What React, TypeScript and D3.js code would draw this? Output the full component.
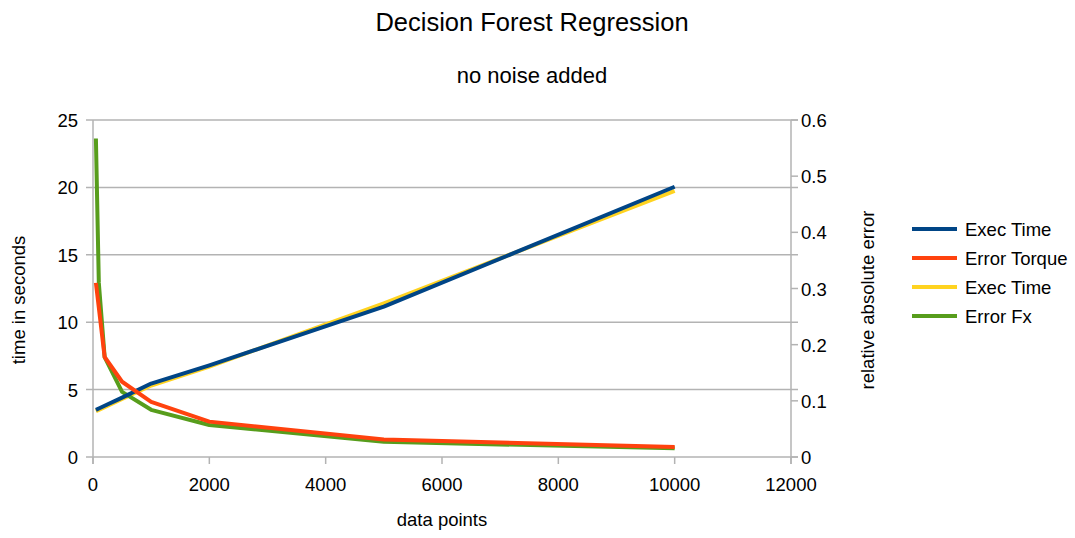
import React from "react";
import * as d3 from "d3";

const dataPoints = [50, 100, 200, 500, 1000, 2000, 5000, 10000];
const execTimeBlue = [3.5, 3.6, 3.8, 4.4, 5.45, 6.8, 11.15, 20.05];
const errorTorque = [0.31, 0.266, 0.178, 0.134, 0.098, 0.063, 0.031, 0.018];
const execTimeYellow = [3.4, 3.5, 3.7, 4.3, 5.3, 6.7, 11.4, 19.75];
const errorFx = [0.567, 0.31, 0.178, 0.116, 0.084, 0.057, 0.027, 0.0155];

const xTicks = [0, 2000, 4000, 6000, 8000, 10000, 12000];
const leftTicks = [0, 5, 10, 15, 20, 25];
const rightTicks = [0, 0.1, 0.2, 0.3, 0.4, 0.5, 0.6];

const series = [
  { name: "Exec Time", values: execTimeBlue, axis: "left", color: "#004586" },
  { name: "Error Torque", values: errorTorque, axis: "right", color: "#ff420e" },
  { name: "Exec Time", values: execTimeYellow, axis: "left", color: "#ffd320" },
  { name: "Error Fx", values: errorFx, axis: "right", color: "#579d1c" },
];
const drawOrder = [2, 3, 0, 1];

export default function App() {
  const W = 1075, H = 538;
  const left = 93, right = 791, top = 120, bottom = 457;
  const x = d3.scaleLinear().domain([0, 12000]).range([left, right]);
  const yL = d3.scaleLinear().domain([0, 25]).range([bottom, top]);
  const yR = d3.scaleLinear().domain([0, 0.6]).range([bottom, top]);
  const font = "'Liberation Sans', Arial, sans-serif";
  const grid = "#b3b3b3";
  const tickFs = 18.5;

  const lineFor = (s: any) =>
    d3
      .line<number>()
      .x((_, i) => x(dataPoints[i]))
      .y((v) => (s.axis === "left" ? yL(v) : yR(v)))(s.values) || "";

  return (
    <svg width={W} height={H} style={{ position: "absolute", left: 0, top: 0, background: "#fff" }} fontFamily={font}>
      <rect width={W} height={H} fill="#fff" />
      <text x={532} y={31} textAnchor="middle" fontSize={25.5} fill="#000">Decision Forest Regression</text>
      <text x={532} y={83} textAnchor="middle" fontSize={22} fill="#000">no noise added</text>

      {leftTicks.map((t) => (
        <line key={"g" + t} x1={left - 7} x2={right + 7} y1={yL(t)} y2={yL(t)} stroke={grid} strokeWidth={1.5} />
      ))}
      <line x1={left} x2={left} y1={top} y2={bottom + 7} stroke={grid} strokeWidth={1.5} />
      <line x1={right} x2={right} y1={top} y2={bottom + 7} stroke={grid} strokeWidth={1.5} />
      {xTicks.map((t) => (
        <line key={"xt" + t} x1={x(t)} x2={x(t)} y1={bottom} y2={bottom + 7} stroke={grid} strokeWidth={1.5} />
      ))}
      {rightTicks.map((t) => (
        <line key={"rt" + t} x1={right} x2={right + 7} y1={yR(t)} y2={yR(t)} stroke={grid} strokeWidth={1.5} />
      ))}

      {leftTicks.map((t) => (
        <text key={"lt" + t} x={78} y={yL(t) + 7} textAnchor="end" fontSize={tickFs} fill="#000">{t}</text>
      ))}
      {rightTicks.map((t) => (
        <text key={"rl" + t} x={801} y={yR(t) + 7} textAnchor="start" fontSize={tickFs} fill="#000">{t === 0 ? "0" : d3.format(".1f")(t)}</text>
      ))}
      {xTicks.map((t) => (
        <text key={"xl" + t} x={x(t)} y={491} textAnchor="middle" fontSize={tickFs} fill="#000">{t}</text>
      ))}

      <text x={442} y={526} textAnchor="middle" fontSize={18.5} fill="#000">data points</text>
      <text transform="translate(25,300) rotate(-90)" textAnchor="middle" fontSize={18.5} fill="#000">time in seconds</text>
      <text transform="translate(874,300) rotate(-90)" textAnchor="middle" fontSize={18.5} fill="#000">relative absolute error</text>

      {drawOrder.map((i) => (
        <path key={"s" + i} d={lineFor(series[i])} fill="none" stroke={series[i].color} strokeWidth={4} strokeLinejoin="round" />
      ))}

      {series.map((s, i) => (
        <g key={"lg" + i}>
          <line x1={912} x2={957} y1={229 + i * 29} y2={229 + i * 29} stroke={s.color} strokeWidth={4} />
          <text x={965} y={236 + i * 29} fontSize={18.5} fill="#000">{s.name}</text>
        </g>
      ))}
    </svg>
  );
}
